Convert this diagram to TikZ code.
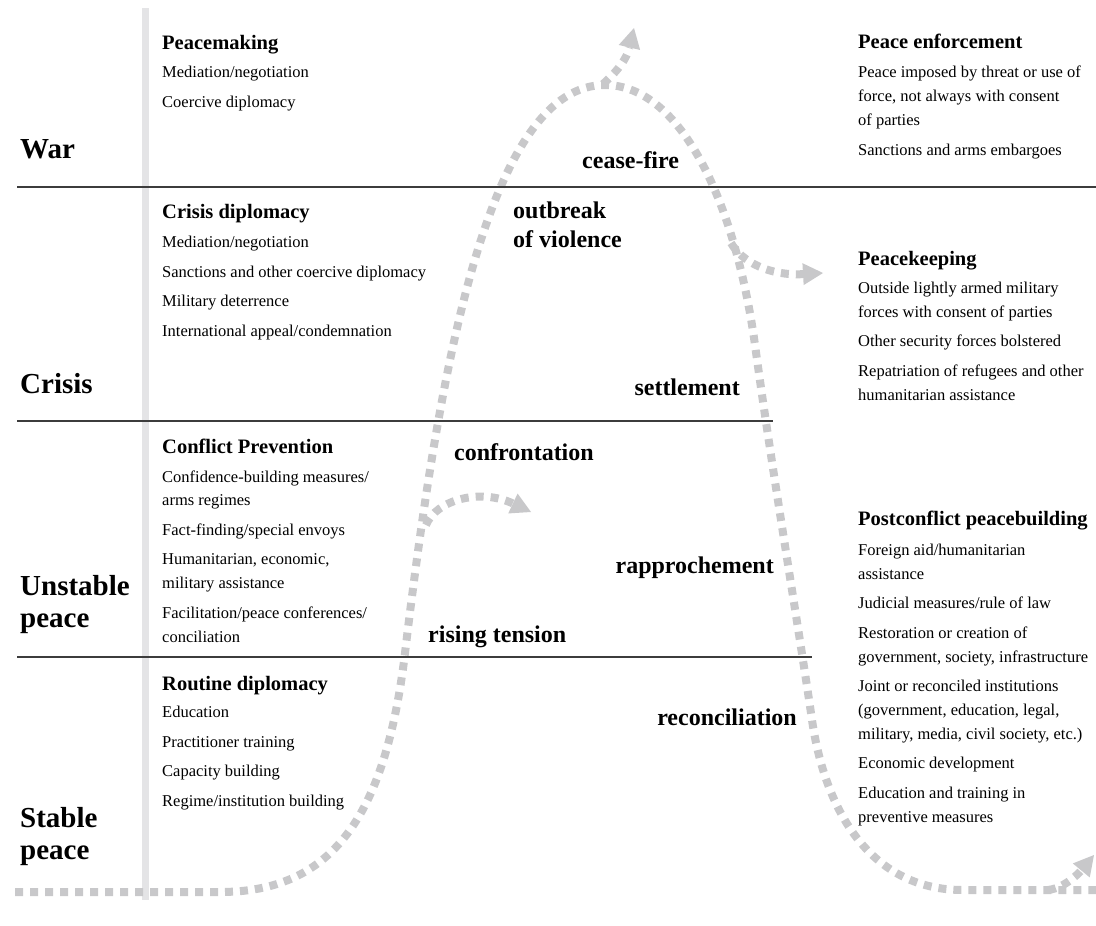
\documentclass[tikz,border=0pt]{standalone}
\usepackage{fontspec}
\setmainfont{Liberation Serif}
\usetikzlibrary{arrows.meta}

\definecolor{trendgrey}{HTML}{C8C8CA}
\definecolor{bargrey}{HTML}{E4E4E6}
\definecolor{rulegrey}{HTML}{3C3C3C}

\tikzset{
  stage/.style={anchor=base west, inner sep=0pt, align=left,
    font=\fontsize{29}{32}\selectfont\bfseries},
  phase/.style={anchor=base west, inner sep=0pt, align=left,
    font=\fontsize{24}{29}\selectfont\bfseries},
  tool/.style={anchor=base west, inner sep=0pt,
    font=\fontsize{20.5}{24}\selectfont\bfseries},
  toollist/.style={anchor=base west, inner sep=0pt, align=left,
    font=\fontsize{16.5}{23.8}\selectfont},
  trend/.style={draw=trendgrey, line width=8pt, dash pattern=on 8pt off 7pt},
  trendarrow/.style={trend, -{Triangle[length=20pt, width=22pt, line width=0pt]}},
  level/.style={draw=rulegrey, line width=1.4pt},
}

\begin{document}
\begin{tikzpicture}[x=1pt, y=-1pt]
    \useasboundingbox (0,0) rectangle (1096,926);

    % barra vertical
    \fill[bargrey] (142,8) rectangle (149,900);

    % curva del conflicto
    \coordinate (start)   at (15,892);
    \coordinate (peak)    at (605,85);
    \coordinate (finish)  at (1096,890);
    \draw[trend] (start) -- (220,892)
        .. controls (330,892) and (385,820) .. (405,653)
        .. controls (440,360) and (490,85) .. (peak)
        .. controls (680,85) and (735,200) .. (755,345)
        .. controls (772,470) and (799,630) .. (812,720)
        .. controls (825,810) and (870,890) .. (963,890) -- (finish);

    % ramas
    \coordinate (warfork)      at (603,84);
    \coordinate (warend)       at (634,28);
    \coordinate (keepfork)     at (731,243);
    \coordinate (keepend)      at (823,273);
    \coordinate (tensionfork)  at (426,525);
    \coordinate (tensionend)   at (531,512);
    \coordinate (buildfork)    at (1048,890);
    \coordinate (buildend)     at (1094,855);
    \draw[trendarrow] (warfork) .. controls (612,76) and (626,62) .. (warend);
    \draw[trendarrow] (keepfork) .. controls (742,262) and (770,276) .. (keepend);
    \draw[trendarrow] (tensionfork) .. controls (436,500) and (480,488) .. (tensionend);
    \draw[trendarrow] (buildfork) .. controls (1065,888) and (1080,872) .. (buildend);

    % niveles
    \draw[level] (17,187) -- (1096,187);
    \draw[level] (17,421) -- (773,421);
    \draw[level] (17,657) -- (812,657);

    % estados (varias lineas: base en la ultima linea)
    \node[stage] (war)      at (20,158) {War};
    \node[stage] (crisis)   at (20,393) {Crisis};
    \node[stage] (unstable) at (20,627) {Unstable\\peace};
    \node[stage] (stable)   at (20,859) {Stable\\peace};

    % fases
    \node[phase] (ceasefire) at (582,168) {cease-fire};
    \node[phase] (outbreak)  at (513,247) {outbreak\\of violence};
    \node[phase, anchor=base east] (settlement) at (740,395) {settlement};
    \node[phase] (confrontation) at (454,460) {confrontation};
    \node[phase, anchor=base east] (rapprochement) at (774,573) {rapprochement};
    \node[phase] (tension) at (428,642) {rising tension};
    \node[phase, anchor=base east] (reconciliation) at (797,725) {reconciliation};

    % herramientas, columna izquierda
    \node[tool] (peacemaking) at (162,49) {Peacemaking};
    \node[toollist] (peacemakinglist) at (162,107)
        {Mediation/negotiation\\[5.7pt]
         Coercive diplomacy};
    \node[tool] (crisisdip) at (162,218) {Crisis diplomacy};
    \node[toollist] (crisisdiplist) at (162,336)
        {Mediation/negotiation\\[5.7pt]
         Sanctions and other coercive diplomacy\\[5.7pt]
         Military deterrence\\[5.7pt]
         International appeal/condemnation};
    \node[tool] (prevention) at (162,453) {Conflict Prevention};
    \node[toollist] (preventionlist) at (162,642)
        {Confidence-building measures/\\
         arms regimes\\[5.7pt]
         Fact-finding/special envoys\\[5.7pt]
         Humanitarian, economic,\\
         military assistance\\[5.7pt]
         Facilitation/peace conferences/\\
         conciliation};
    \node[tool] (routine) at (162,690) {Routine diplomacy};
    \node[toollist] (routinelist) at (162,806)
        {Education\\[5.7pt]
         Practitioner training\\[5.7pt]
         Capacity building\\[5.7pt]
         Regime/institution building};

    % herramientas, columna derecha
    \node[tool] (enforcement) at (858,48) {Peace enforcement};
    \node[toollist] (enforcementlist) at (858,155)
        {Peace imposed by threat or use of\\
         force, not always with consent\\
         of parties\\[5.7pt]
         Sanctions and arms embargoes};
    \node[tool] (keeping) at (858,265) {Peacekeeping};
    \node[toollist] (keepinglist) at (858,400)
        {Outside lightly armed military\\
         forces with consent of parties\\[5.7pt]
         Other security forces bolstered\\[5.7pt]
         Repatriation of refugees and other\\
         humanitarian assistance};
    \node[tool] (building) at (858,525) {Postconflict peacebuilding};
    \node[toollist] (buildinglist) at (858,822)
        {Foreign aid/humanitarian\\
         assistance\\[5.7pt]
         Judicial measures/rule of law\\[5.7pt]
         Restoration or creation of\\
         government, society, infrastructure\\[5.7pt]
         Joint or reconciled institutions\\
         (government, education, legal,\\
         military, media, civil society, etc.)\\[5.7pt]
         Economic development\\[5.7pt]
         Education and training in\\
         preventive measures};
\end{tikzpicture}
\end{document}
